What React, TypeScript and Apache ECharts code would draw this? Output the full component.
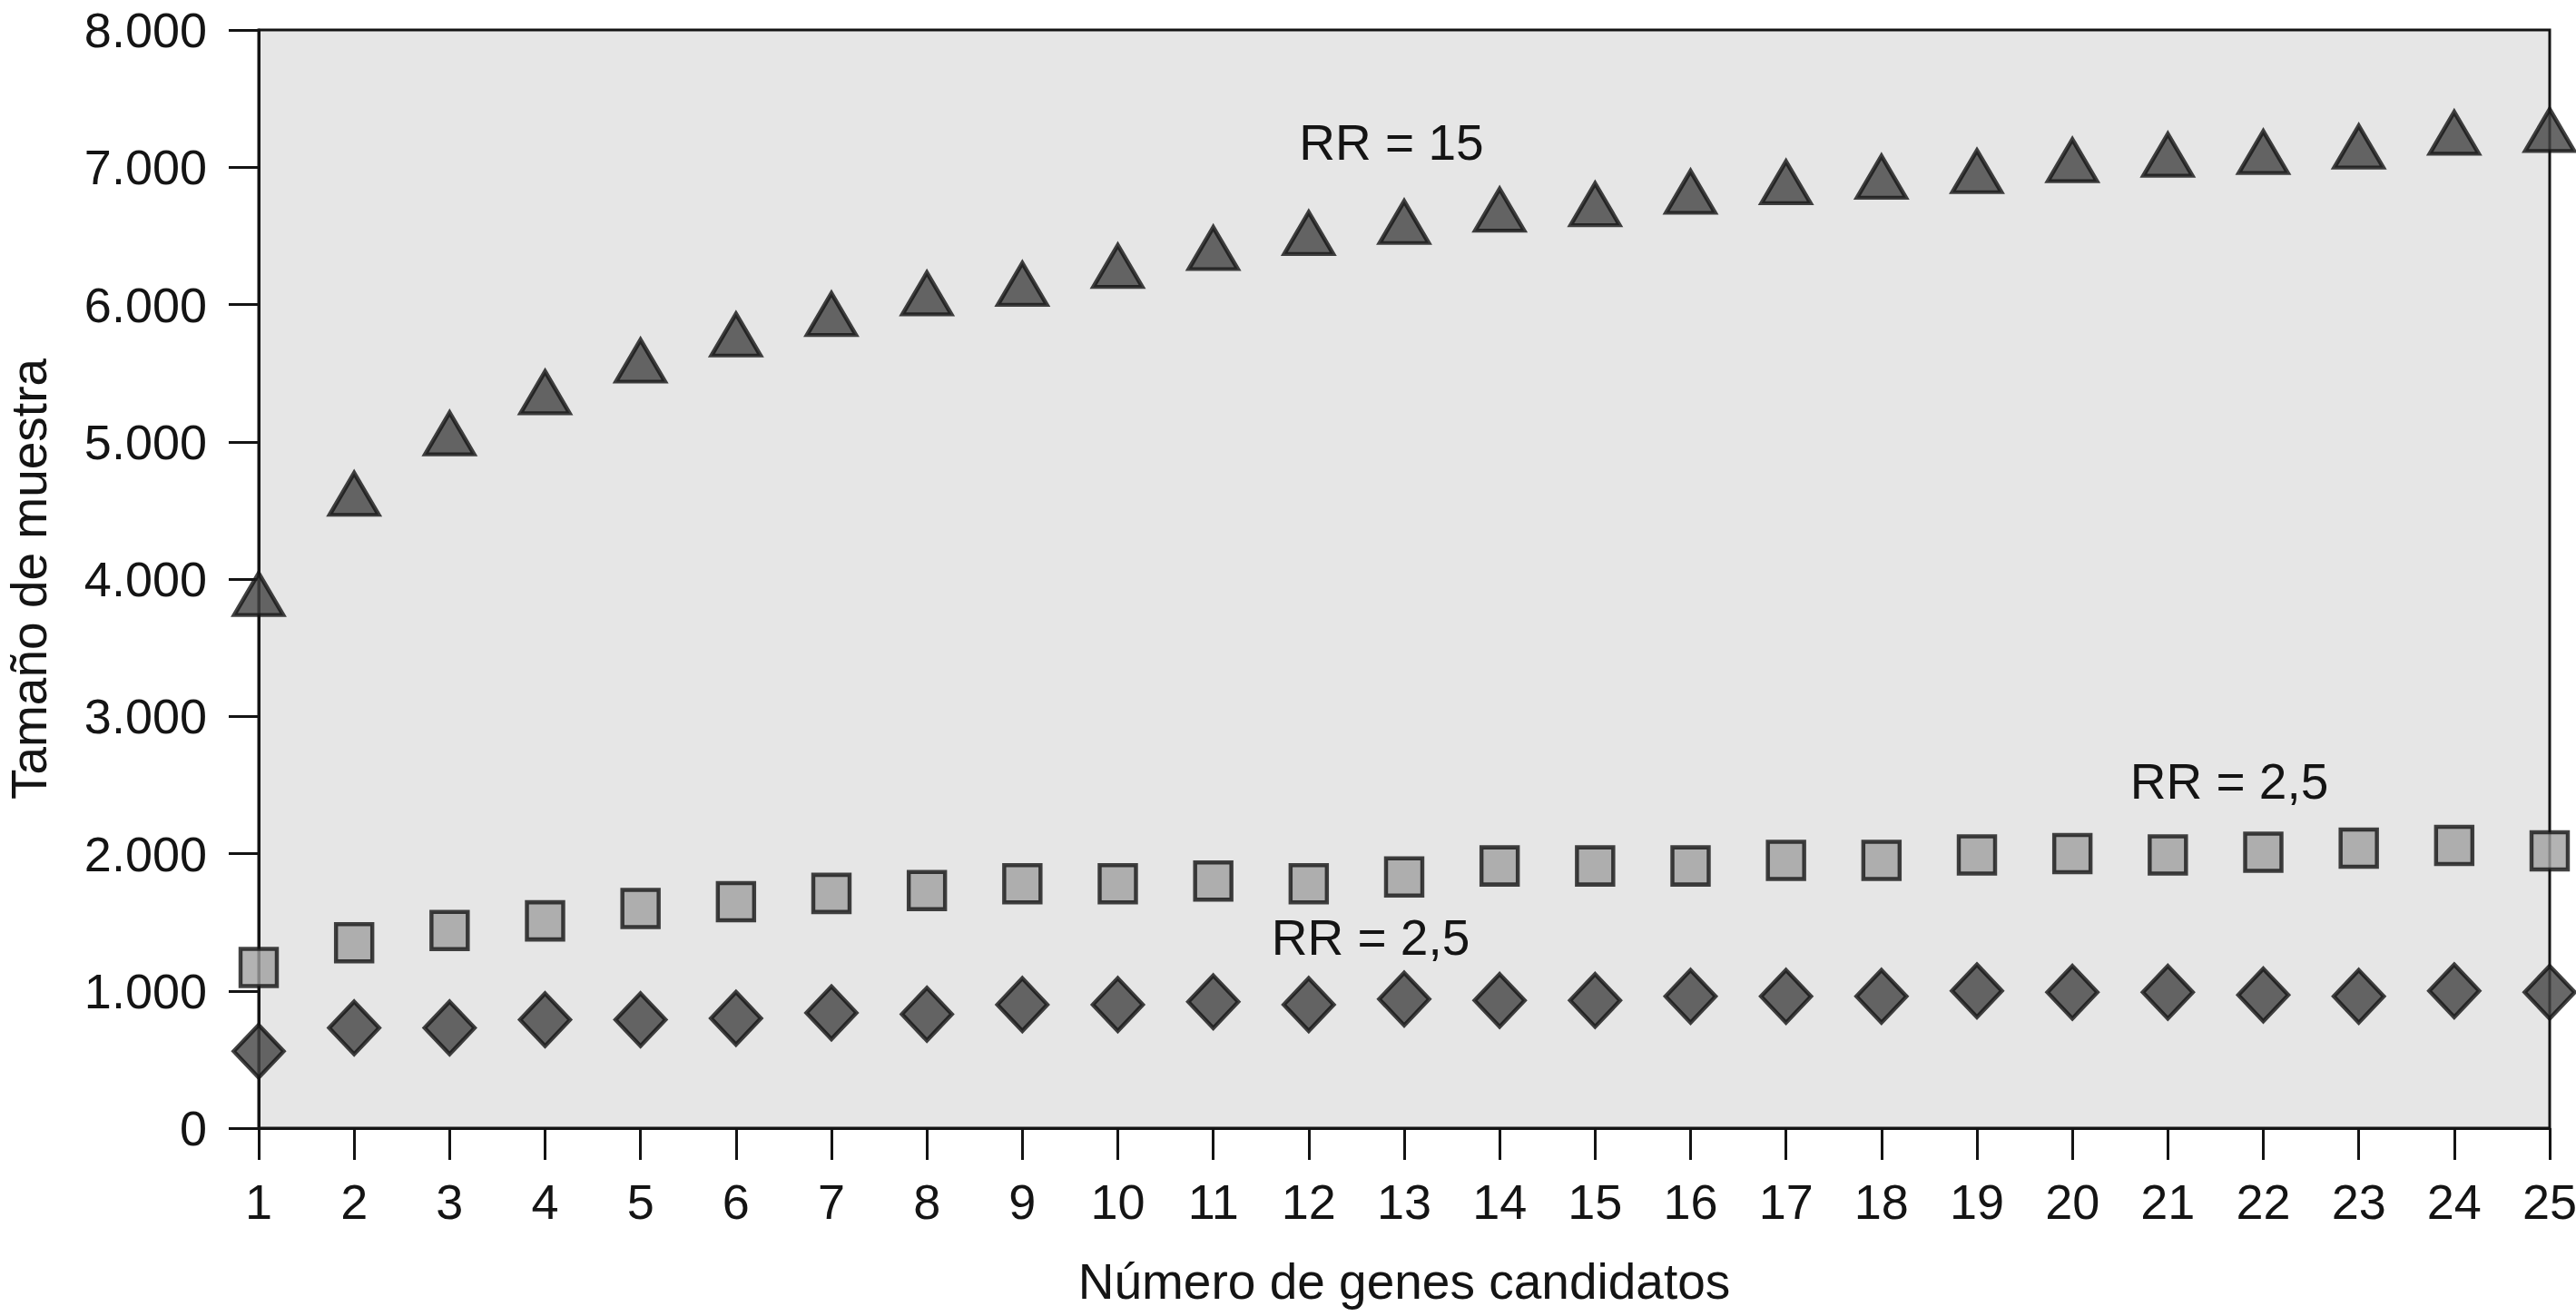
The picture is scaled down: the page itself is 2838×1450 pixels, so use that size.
import React, { useEffect, useRef } from "react";
import * as echarts from "echarts";

const genes = [1, 2, 3, 4, 5, 6, 7, 8, 9, 10, 11, 12, 13, 14, 15, 16, 17, 18, 19, 20, 21, 22, 23, 24, 25];
const rr15 = [3890, 4620, 5060, 5360, 5590, 5780, 5930, 6080, 6150, 6280, 6410, 6520, 6600, 6690, 6730, 6820, 6890, 6930, 6970, 7050, 7090, 7110, 7150, 7250, 7270];
const rr25Squares = [1170, 1350, 1440, 1510, 1600, 1650, 1710, 1730, 1780, 1780, 1800, 1780, 1830, 1910, 1910, 1910, 1950, 1950, 1990, 2000, 1990, 2010, 2040, 2060, 2020];
const rr25Diamonds = [560, 730, 730, 790, 790, 800, 840, 830, 900, 900, 920, 900, 940, 930, 930, 960, 960, 960, 1000, 990, 990, 970, 960, 1000, 990];
const annotations = ["RR = 15", "RR = 2,5", "RR = 2,5"];
const xTitle = "Número de genes candidatos";
const yTitle = "Tamaño de muestra";

const FONT = "'Liberation Sans', Arial, Helvetica, sans-serif";
const INK = "#141414";

function fmt(v: number): string {
  return String(v).replace(/\B(?=(\d{3})+(?!\d))/g, ".");
}

export default function App() {
  const ref = useRef<HTMLDivElement>(null);
  useEffect(() => {
    document.body.style.margin = "0";
    const chart = echarts.init(ref.current!, null, { renderer: "svg" });
    const pts = (arr: number[]) => genes.map((g, i) => [g, arr[i]]);
    const border = { borderColor: INK, borderWidth: 4.5 };
    chart.setOption({
      animation: false,
      backgroundColor: "#ffffff",
      grid: {
        left: 285,
        right: 29,
        top: 33,
        bottom: 207,
        show: true,
        backgroundColor: "#e6e6e6",
        borderColor: INK,
        borderWidth: 3,
        containLabel: false,
        outerBoundsMode: "none",
      },
      xAxis: {
        type: "value",
        min: 1,
        max: 25,
        interval: 1,
        name: xTitle,
        nameLocation: "middle",
        nameGap: 141,
        nameTextStyle: { fontSize: 55, color: INK, fontFamily: FONT },
        axisLine: { show: true, lineStyle: { color: INK, width: 3 } },
        axisTick: { show: true, length: 35, lineStyle: { color: INK, width: 3 } },
        axisLabel: { margin: 54, fontSize: 54, color: INK, fontFamily: FONT },
        splitLine: { show: false },
      },
      yAxis: {
        type: "value",
        min: 0,
        max: 8000,
        interval: 1000,
        name: yTitle,
        nameLocation: "middle",
        nameGap: 226,
        nameTextStyle: { fontSize: 55, color: INK, fontFamily: FONT },
        axisLine: { show: true, lineStyle: { color: INK, width: 3 } },
        axisTick: { show: true, length: 33, lineStyle: { color: INK, width: 3 } },
        axisLabel: { margin: 57, fontSize: 54, color: INK, fontFamily: FONT, formatter: (v: number) => fmt(v) },
        splitLine: { show: false },
      },
      series: [
        {
          type: "scatter",
          name: annotations[0],
          data: pts(rr15),
          symbol: "triangle",
          symbolSize: [54, 46],
          clip: false,
          itemStyle: { color: "#424242", ...border },
        },
        {
          type: "scatter",
          name: annotations[1],
          data: pts(rr25Squares),
          symbol: "rect",
          symbolSize: [40, 41],
          clip: false,
          itemStyle: { color: "#a0a0a0", ...border },
        },
        {
          type: "scatter",
          name: annotations[2],
          data: pts(rr25Diamonds),
          symbol: "diamond",
          symbolSize: [55, 58],
          clip: false,
          itemStyle: { color: "#424242", ...border },
        },
      ],
      graphic: [
        {
          type: "text",
          x: 1533,
          y: 157,
          style: { text: annotations[0], fontSize: 55, fill: INK, fontFamily: FONT, align: "center", verticalAlign: "middle" },
        },
        {
          type: "text",
          x: 2456,
          y: 861,
          style: { text: annotations[1], fontSize: 55, fill: INK, fontFamily: FONT, align: "center", verticalAlign: "middle" },
        },
        {
          type: "text",
          x: 1510,
          y: 1033,
          style: { text: annotations[2], fontSize: 55, fill: INK, fontFamily: FONT, align: "center", verticalAlign: "middle" },
        },
      ],
    });
    return () => chart.dispose();
  }, []);
  return <div ref={ref} style={{ position: "absolute", left: 0, top: 0, width: 2838, height: 1450 }} />;
}
